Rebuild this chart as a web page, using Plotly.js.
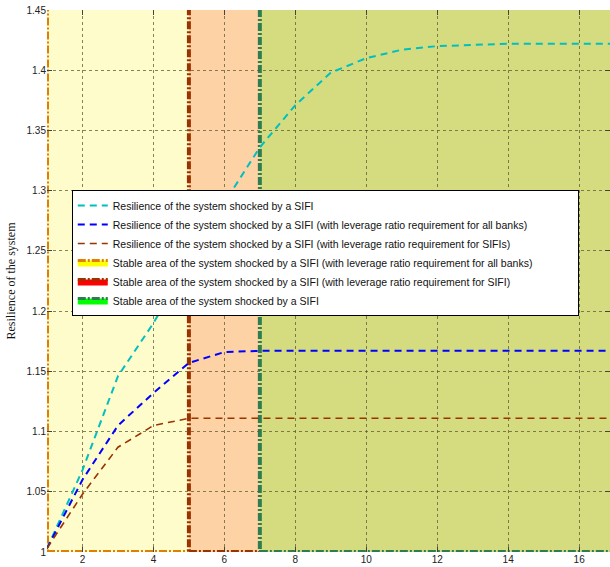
<!DOCTYPE html>
<html>
<head>
<meta charset="utf-8">
<script src="https://cdn.plot.ly/plotly-3.0.1.min.js"></script>
<style>html,body{margin:0;padding:0;background:#fff;}#chart{width:610px;height:567px;}</style>
</head>
<body>
<div id="chart"></div>
<script>
// ---- data ----
const steps = [1,2,3,4,5,6,7,8,9,10,11,12,13,14,15,16,17];
const resilienceSIFI = [1.003,1.068,1.146,1.190,1.242,1.290,1.336,1.371,1.398,1.410,1.417,1.420,1.421,1.422,1.422,1.422,1.422];
const resilienceAllBanks = [1.003,1.060,1.105,1.132,1.157,1.166,1.167,1.167,1.167,1.167,1.167,1.167,1.167,1.167,1.167,1.167,1.167];
const resilienceSIFIs = [1.003,1.048,1.087,1.105,1.111,1.111,1.111,1.111,1.111,1.111,1.111,1.111,1.111,1.111,1.111,1.111,1.111];
const stableStart = [1, 5, 7];      // x where each stable area begins
const stableEnd = 18;               // areas run past the right edge
const stableBottom = 1;
const stableTop = 1.5;
const seriesNames = [
  "Resilience of the system shocked by a SIFI",
  "Resilience of the system shocked by a SIFI (with leverage ratio requirement for all banks)",
  "Resilience of the system shocked by a SIFI (with leverage ratio requirement for SIFIs)"
];
const areaNames = [
  "Stable area of the system shocked by a SIFI (with leverage ratio requirement for all banks)",
  "Stable area of the system shocked by a SIFI (with leverage ratio requirement for SIFI)",
  "Stable area of the system shocked by a SIFI"
];
const yTicks = [1,1.05,1.1,1.15,1.2,1.25,1.3,1.35,1.4,1.45];
const yTickText = ["1","1.05","1.1","1.15","1.2","1.25","1.3","1.35","1.4","1.45"];
const xTicks = [2,4,6,8,10,12,14,16];

// ---- styles ----
const lineColors = ["#00BFBF", "#0000FF", "#993300"];
const lineWidths = [2, 2, 1.6];
const areaPlotFill = ["#FFFCCC", "#FDD2A4", "#D5DC80"];
const areaLegendFill = ["#FFFF00", "#FF0000", "#00FF00"];
const areaEdge = ["#E08000", "#993300", "#2E7D50"];
const edgeDash = "8px,2px,2px,2px";

const traces = [];
[resilienceSIFI, resilienceAllBanks, resilienceSIFIs].forEach((ys, i) => {
  traces.push({
    x: steps, y: ys, type: "scatter", mode: "lines", name: seriesNames[i],
    line: {color: lineColors[i], width: lineWidths[i], dash: "7px,5px"},
    hoverinfo: "skip"
  });
});
// legend entries for the stable areas (areas themselves drawn as shapes under the grid)
areaNames.forEach((nm, i) => {
  traces.push({
    x: [null], y: [null], type: "scatter", mode: "lines", fill: "toself", name: nm,
    fillcolor: areaLegendFill[i],
    line: {color: areaEdge[i], width: 3, dash: edgeDash}
  });
});

const shapes = stableStart.map((x0, i) => ({
  type: "rect", xref: "x", yref: "y", layer: "below",
  x0: x0, x1: stableEnd, y0: stableBottom, y1: stableTop,
  fillcolor: areaPlotFill[i],
  line: {color: areaEdge[i], width: 4, dash: edgeDash}
}));

const layout = {
  width: 610, height: 567,
  margin: {l: 47, r: 0, t: 10, b: 15},
  paper_bgcolor: "#ffffff", plot_bgcolor: "#ffffff",
  font: {family: "Liberation Sans, Arial, sans-serif", size: 10, color: "#222"},
  showlegend: true,
  legend: {
    orientation: "h", entrywidth: 460, entrywidthmode: "pixels",
    x: 0.044, y: 0.668, xanchor: "left", yanchor: "top",
    bgcolor: "#ffffff", bordercolor: "#000000", borderwidth: 1,
    font: {family: "Liberation Sans, Arial, sans-serif", size: 10.5, color: "#111"},
    tracegroupgap: 0, itemwidth: 30
  },
  xaxis: {
    range: [1, 16.87], tickvals: xTicks, ticks: "inside", ticklen: 5, tickcolor: "#444",
    mirror: "ticks", showline: false, zeroline: false,
    showgrid: true, gridcolor: "rgba(90,90,50,0.75)", griddash: "dot", gridwidth: 1,
    tickfont: {size: 10, color: "#222"}
  },
  yaxis: {
    range: [1, 1.45], tickvals: yTicks, ticktext: yTickText, ticks: "inside", ticklen: 5, tickcolor: "#444",
    mirror: "ticks", showline: false, zeroline: false,
    showgrid: true, gridcolor: "rgba(90,90,50,0.75)", griddash: "dot", gridwidth: 1,
    tickfont: {size: 10, color: "#222"},
    title: {text: "Resilience of the system", font: {family: "Liberation Serif, Times New Roman, serif", size: 12, color: "#111"}, standoff: 8}
  },
  shapes: shapes
};

Plotly.newPlot("chart", traces, layout, {displayModeBar: false, staticPlot: true});
</script>
</body>
</html>
